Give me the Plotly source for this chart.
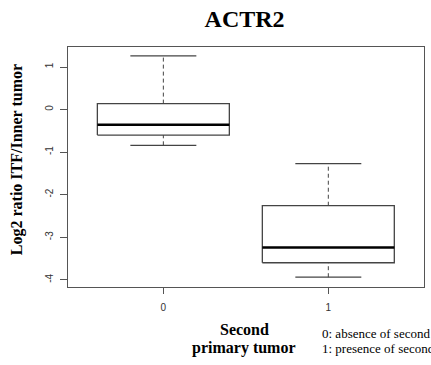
import plotly.graph_objects as go

# Data
groups = [0, 1]
tick_labels = ["0", "1"]
upper_whisker = [1.26, -1.27]
q3 = [0.14, -2.26]
median = [-0.36, -3.24]
q1 = [-0.60, -3.60]
lower_whisker = [-0.84, -3.94]

box_half = 0.4
cap_half = 0.2
box_color = "#444444"

fig = go.Figure()
for g, uw, a3, md, a1, lw in zip(groups, upper_whisker, q3, median, q1, lower_whisker):
    # box outline
    fig.add_trace(go.Scatter(
        x=[g - box_half, g + box_half, g + box_half, g - box_half, g - box_half],
        y=[a1, a1, a3, a3, a1], mode="lines",
        line=dict(color=box_color, width=1.3), fill="toself", fillcolor="white",
        hoverinfo="skip"))
    # whiskers (dashed)
    fig.add_trace(go.Scatter(x=[g, g], y=[a3, uw], mode="lines",
                             line=dict(color=box_color, width=1, dash="4px,3px"), hoverinfo="skip"))
    fig.add_trace(go.Scatter(x=[g, g], y=[lw, a1], mode="lines",
                             line=dict(color=box_color, width=1, dash="4px,3px"), hoverinfo="skip"))
    # caps
    fig.add_trace(go.Scatter(x=[g - cap_half, g + cap_half], y=[uw, uw], mode="lines",
                             line=dict(color=box_color, width=1.2), hoverinfo="skip"))
    fig.add_trace(go.Scatter(x=[g - cap_half, g + cap_half], y=[lw, lw], mode="lines",
                             line=dict(color=box_color, width=1.2), hoverinfo="skip"))
    # median
    fig.add_trace(go.Scatter(x=[g - box_half, g + box_half], y=[md, md], mode="lines",
                             line=dict(color="black", width=2.5), hoverinfo="skip"))

serif = "Liberation Serif, Times New Roman, serif"
sans = "Liberation Sans, Arial, sans-serif"

fig.update_layout(
    width=431, height=365,
    margin=dict(l=68, r=7, t=47, b=78),
    plot_bgcolor="white", paper_bgcolor="white",
    showlegend=False,
    title=dict(text="<b>ACTR2</b>", x=0.5675, xanchor="center", y=0.949, yanchor="middle",
               font=dict(family=serif, size=24, color="black")),
    xaxis=dict(range=[-0.578, 1.58], tickvals=groups, ticktext=tick_labels,
               showgrid=False, zeroline=False, showline=True, mirror=True,
               linecolor="#555555", linewidth=1, ticks="outside", ticklen=6,
               tickcolor="#555555", ticklabelstandoff=5,
               tickfont=dict(family=sans, size=10, color="#333333")),
    yaxis=dict(range=[-4.17, 1.47], tickvals=[1, 0, -1, -2, -3, -4],
               ticktext=["1", "0", "-1", "-2", "-3", "-4"],
               showgrid=False, zeroline=False, showline=True, mirror=True,
               linecolor="#555555", linewidth=1, ticks="outside", ticklen=7,
               tickcolor="#555555", tickangle=-90, ticklabelstandoff=3,
               tickfont=dict(family=sans, size=10, color="#333333")),
)

fig.add_annotation(text="<b>Log2 ratio ITF/Inner tumor</b>", xref="paper", yref="paper",
                   x=-0.145, y=0.53, xanchor="center", yanchor="middle", textangle=-90,
                   showarrow=False, font=dict(family=serif, size=16, color="black"))
fig.add_annotation(text="<b>Second</b>", xref="paper", yref="paper",
                   x=0.4955, y=-0.175, xanchor="center", yanchor="middle", showarrow=False,
                   font=dict(family=serif, size=16, color="black"))
fig.add_annotation(text="<b>primary tumor</b>", xref="paper", yref="paper",
                   x=0.4955, y=-0.254, xanchor="center", yanchor="middle", showarrow=False,
                   font=dict(family=serif, size=16, color="black"))
fig.add_annotation(text="0: absence of second primary tumor",
                   xref="paper", yref="paper", x=0.708, y=-0.192, xanchor="left",
                   yanchor="middle", showarrow=False,
                   font=dict(family=serif, size=13, color="black"))
fig.add_annotation(text="1: presence of second primary tumor",
                   xref="paper", yref="paper", x=0.708, y=-0.258, xanchor="left",
                   yanchor="middle", showarrow=False,
                   font=dict(family=serif, size=13, color="black"))

fig.write_html("out.html")
